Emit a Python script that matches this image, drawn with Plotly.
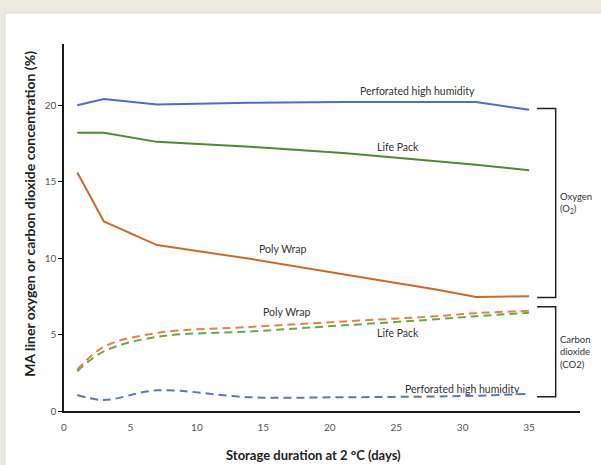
import plotly.graph_objects as go

days = [1, 3, 7, 14, 21, 28, 31, 35]

o2_perforated = [20.0, 20.4, 20.05, 20.15, 20.2, 20.2, 20.2, 19.7]
o2_lifepack = [18.2, 18.2, 17.6, 17.28, 16.88, 16.35, 16.1, 15.75]
o2_polywrap = [15.6, 12.4, 10.85, 9.95, 8.95, 7.95, 7.45, 7.5]

co2_polywrap = [2.7, 4.2, 5.1, 5.5, 5.85, 6.2, 6.4, 6.55]
co2_lifepack = [2.6, 3.9, 4.85, 5.2, 5.6, 6.0, 6.2, 6.42]
co2_perforated = [1.05, 0.72, 1.35, 0.9, 0.9, 0.95, 1.0, 1.12]

x_ticks = [0, 5, 10, 15, 20, 25, 30, 35]
y_ticks = [0, 5, 10, 15, 20]

BLUE = "#4a6fc8"
GREEN = "#4f8a2c"
ORANGE = "#cd6a2a"
BLUE_D = "#5b78b8"
GREEN_D = "#6aa845"
ORANGE_D = "#e3834a"

fig = go.Figure()

def add(y, color, dash, shape):
    fig.add_trace(go.Scatter(
        x=days, y=y, mode="lines",
        line=dict(color=color, width=2, dash=dash, shape=shape, smoothing=1),
        showlegend=False, hoverinfo="skip"))

add(o2_perforated, BLUE, "solid", "linear")
add(o2_lifepack, GREEN, "solid", "linear")
add(o2_polywrap, ORANGE, "solid", "linear")
add(co2_perforated, BLUE_D, "8px,5px", "spline")
add(co2_lifepack, GREEN_D, "8px,5px", "spline")
add(co2_polywrap, ORANGE_D, "8px,5px", "spline")

FONT = "Lato, Open Sans, sans-serif"
lab = dict(family=FONT, size=10.5, color="#333333")

labels = [
    (26.6, 20.95, "Perforated high humidity"),
    (25.1, 17.25, "Life Pack"),
    (16.5, 10.6, "Poly Wrap"),
    (16.8, 6.45, "Poly Wrap"),
    (25.1, 5.1, "Life Pack"),
    (30.0, 1.45, "Perforated high humidity"),
]
for x, y, t in labels:
    fig.add_annotation(x=x, y=y, text=t, showarrow=False, font=lab,
                       xref="x", yref="y")

# Brackets
bx0, bx1 = 35.6, 37.0
for top, bot in [(19.78, 7.43), (6.82, 0.93)]:
    fig.add_shape(type="path",
                  path=f"M {bx0} {top} L {bx1} {top} L {bx1} {bot} L {bx0} {bot}",
                  line=dict(color="#222222", width=1.5), xref="x", yref="y")

fig.add_annotation(x=37.2, y=13.6, xref="x", yref="y", xanchor="left",
                   text="Oxygen<br>(O<sub>2</sub>)", showarrow=False, align="left",
                   font=dict(family=FONT, size=9.5, color="#333333"))
fig.add_annotation(x=37.2, y=3.85, xref="x", yref="y", xanchor="left",
                   text="Carbon<br>dioxide<br>(CO2)", showarrow=False, align="left",
                   font=dict(family=FONT, size=9.5, color="#333333"))

# axis titles
fig.add_annotation(x=-0.066, y=0.537, xref="paper", yref="paper",
                   xanchor="center", yanchor="middle",
                   text="<b>MA liner oxygen or carbon dioxide concentration (%)</b>",
                   textangle=-90, showarrow=False,
                   font=dict(family=FONT, size=14, color="#222222"))
fig.add_annotation(x=0.4826, y=-0.12, xref="paper", yref="paper",
                   xanchor="center", yanchor="middle",
                   text="<b>Storage duration at 2 °C (days)</b>", showarrow=False,
                   font=dict(family=FONT, size=13, color="#222222"))

# white panel
fig.add_shape(type="rect", xref="paper", yref="paper",
              x0=-0.1143, x1=1.1, y0=-0.2, y1=1.0845,
              fillcolor="white", line=dict(color="#dddddd", width=1), layer="below")

fig.update_layout(
    width=601, height=465,
    margin=dict(l=64, r=21, t=44, b=54),
    paper_bgcolor="#ebe9e0",
    plot_bgcolor="rgba(0,0,0,0)",
    xaxis=dict(range=[0, 38.83], tickvals=x_ticks, ticks="", showgrid=False,
               zeroline=False, showline=True, linecolor="#1a1a1a", linewidth=1.5,
               ticklabelstandoff=6,
               tickfont=dict(family=FONT, size=10, color="#555555")),
    yaxis=dict(range=[0, 24], tickvals=y_ticks, ticks="outside", ticklen=4,
               tickcolor="#1a1a1a", showgrid=False, zeroline=False, showline=True,
               linecolor="#1a1a1a", linewidth=1.5,
               tickfont=dict(family=FONT, size=10, color="#555555")),
)

fig.write_html("out.html", config={"displayModeBar": False},
               post_script="document.body.style.margin='0';document.body.style.overflow='hidden';")
